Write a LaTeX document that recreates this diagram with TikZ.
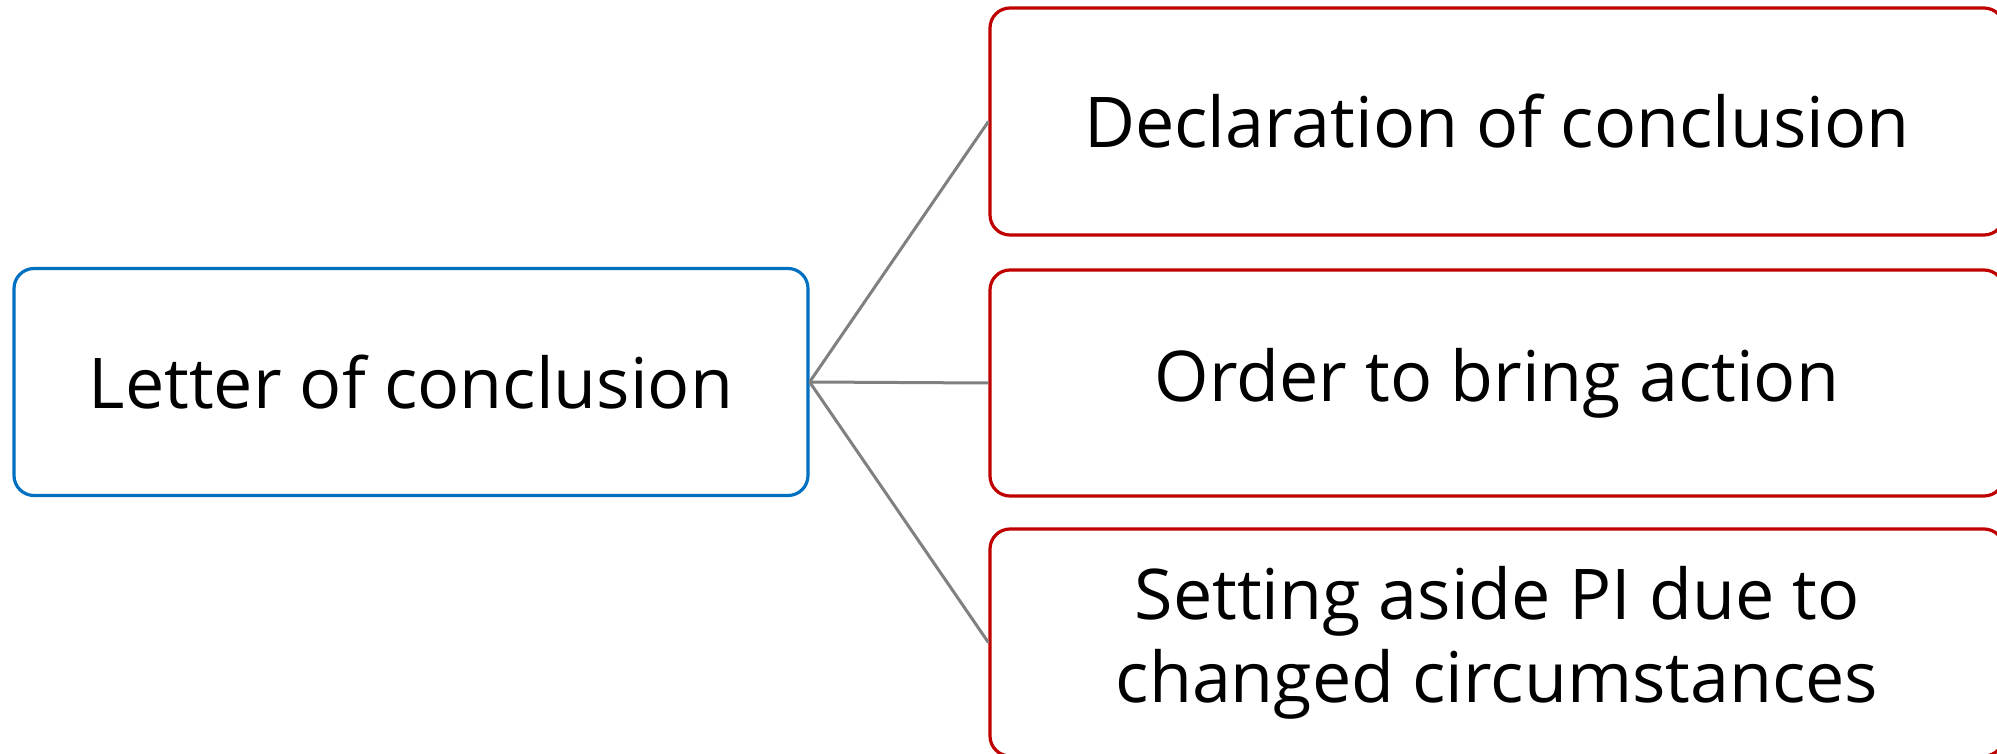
\documentclass[tikz,border=0pt]{standalone}
\usepackage{fontspec}
\setmainfont{Open Sans}
\definecolor{bblue}{HTML}{0070C0}
\definecolor{rred}{HTML}{C00000}
\definecolor{lgray}{HTML}{808080}
\tikzset{
  box/.style={draw, line width=3.2pt, rounded corners=20pt, fill=white, align=center,
    font=\fontsize{70}{83}\selectfont, inner sep=0pt},
  rootbox/.style={box, draw=bblue, minimum width=794pt, minimum height=227pt},
  leafbox/.style={box, draw=rred, minimum width=1014pt, minimum height=227pt},
  conn/.style={draw=lgray, line width=3pt}
}
\begin{document}
\begin{tikzpicture}[x=1pt,y=-1pt]
\useasboundingbox (0,0) rectangle (1997,754);
\clip (0,0) rectangle (1997,754);
\node[rootbox] (root) at (411,382) {Letter of conclusion};
\node[leafbox] (d) at (1497,121.5) {Declaration of conclusion};
\node[leafbox, minimum height=226pt] (o) at (1497,383) {Order to bring action};
\node[leafbox] (s) at (1497,642.5) {Setting aside PI due to\\changed circumstances};
\draw[conn] (root.east) -- (d.west);
\draw[conn] (root.east) -- (o.west);
\draw[conn] (root.east) -- (s.west);
\end{tikzpicture}
\end{document}
